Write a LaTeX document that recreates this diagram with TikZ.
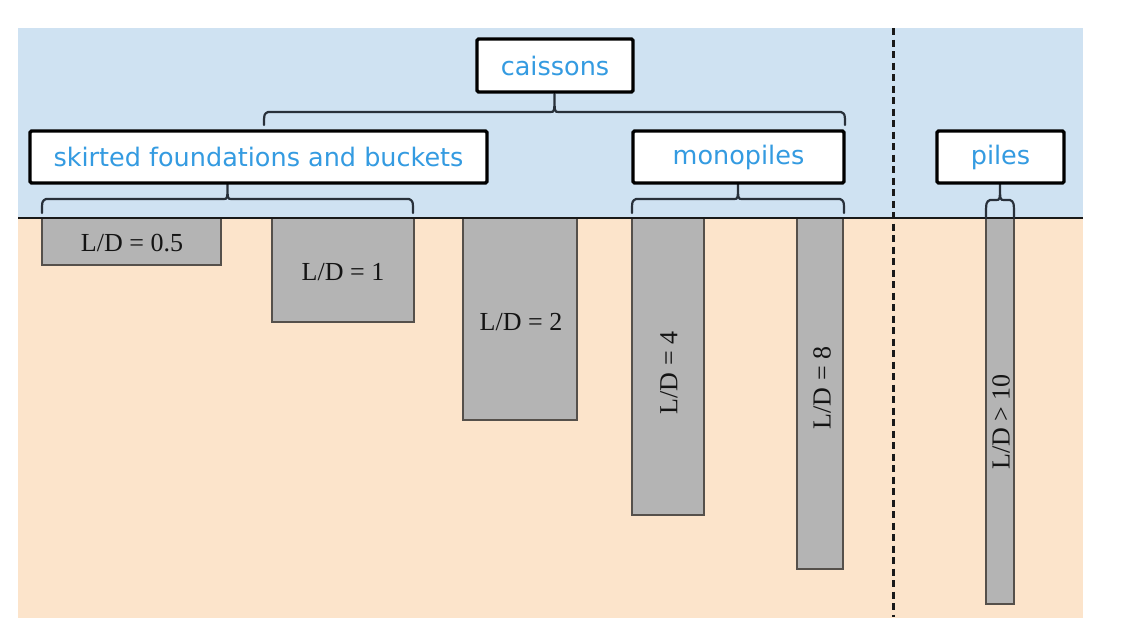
\documentclass[tikz,border=0pt]{standalone}
\usepackage{fontspec}
\setmainfont{Liberation Serif}
\newfontfamily\boxfont{DejaVu Sans}
\definecolor{skyc}{RGB}{207,226,242}
\definecolor{soilc}{RGB}{252,228,203}
\definecolor{pilec}{RGB}{180,180,180}
\definecolor{pileedge}{RGB}{85,80,75}
\definecolor{labelblue}{RGB}{52,155,225}
\definecolor{brkc}{RGB}{40,48,58}
\tikzset{
  catbox/.style={draw=black, line width=3.2pt, fill=white, rounded corners=1.5pt,
    font=\boxfont\fontsize{25.5}{28}\selectfont, text=labelblue, inner sep=0pt},
  pilebox/.style={draw=pileedge, line width=1.4pt, fill=pilec},
  ldlabel/.style={font=\fontsize{26}{28}\selectfont, text=black!92, inner sep=0pt},
  bracket/.style={draw=brkc, line width=2.2pt, line cap=round, line join=round},
  divider/.style={line width=3pt, dash pattern=on 7pt off 4.5pt, draw=black!90},
  groundline/.style={draw=black!90, line width=1.6pt}
}
\newcommand\mybrk[5]{%
  \draw[bracket] (#1,#4) .. controls (#1,{#3+2}) .. ({#1+4},#3)
    -- ({(#1+#2)/2-4},#3) .. controls ({(#1+#2)/2},#3) .. ({(#1+#2)/2},#5)
    .. controls ({(#1+#2)/2},#3) .. ({(#1+#2)/2+4},#3)
    -- ({#2-4},#3) .. controls (#2,{#3+2}) .. (#2,#4);}
\begin{document}
\begin{tikzpicture}[x=1pt,y=-1pt]
\useasboundingbox (0,0) rectangle (1130,629);
% backgrounds
\fill[skyc] (18,28) rectangle (1083,218);
\fill[soilc] (18,218) rectangle (1083,618);
% piles / caissons
\draw[pilebox] (42,218) rectangle (221,265);
\draw[pilebox] (272,218) rectangle (414,322);
\draw[pilebox] (463,218) rectangle (577,420);
\draw[pilebox] (632,218) rectangle (704,515);
\draw[pilebox] (797,218) rectangle (843,569);
\draw[pilebox] (986,218) rectangle (1014,604);
% ground line
\draw[groundline] (18,218) -- (1083,218);
% divider
\coordinate (dtop) at (893,28);
\coordinate (dbot) at (893,617);
\draw[divider] (dtop) -- (dbot);
% labels
\node[ldlabel] (l05) at (132,243) {L/D = 0.5};
\node[ldlabel] (l1) at (343,272) {L/D = 1};
\node[ldlabel] (l2) at (521,322) {L/D = 2};
\node[ldlabel, rotate=90] (l4) at (669,373) {L/D = 4};
\node[ldlabel, rotate=90] (l8) at (822,388) {L/D = 8};
\node[ldlabel, rotate=90] (l10) at (1001,422) {L/D > 10};
% brackets
\mybrk{264}{845}{112}{125}{94}
\mybrk{42}{413}{199}{213}{184}
\mybrk{632}{844}{199}{213}{184}
\mybrk{986}{1014}{200}{218}{184}
% boxes
\node[catbox, minimum width=156pt, minimum height=53pt] (cais) at (555,65.5) {caissons};
\node[catbox, minimum width=457pt, minimum height=52pt] (skirt) at (258.5,157) {skirted foundations and buckets};
\node[catbox, minimum width=211pt, minimum height=52pt] (mono) at (738.5,157) {monopiles};
\node[catbox, minimum width=127pt, minimum height=52pt] (piles) at (1000.5,157) {piles};
\end{tikzpicture}
\end{document}
